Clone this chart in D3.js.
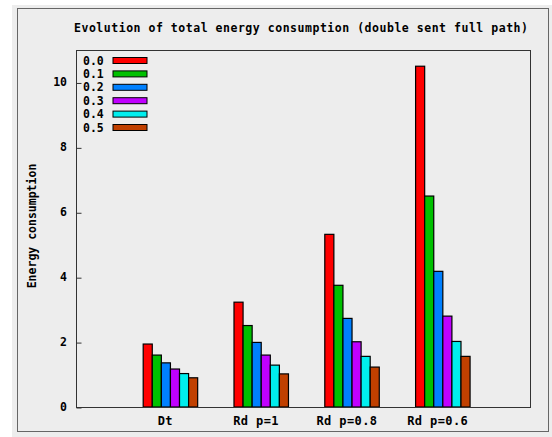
<!DOCTYPE html>
<html>
<head>
<meta charset="utf-8">
<script src="https://cdn.jsdelivr.net/npm/d3@7"></script>
<style>
  body { margin: 0; background: #fff; }
  text { font-family: "DejaVu Sans Mono", monospace; font-weight: bold; fill: #000; }
</style>
</head>
<body>
<svg id="chart" width="552" height="437"></svg>
<script>
// data
const categories = ["Dt", "Rd p=1", "Rd p=0.8", "Rd p=0.6"]
const seriesNames = ["0.0", "0.1", "0.2", "0.3", "0.4", "0.5"]
const seriesColors = ["#ff0000", "#00c000", "#0080ff", "#c000ff", "#00eeee", "#c04000"]
const values00 = [1.94, 3.23, 5.32, 10.50]
const values01 = [1.60, 2.51, 3.75, 6.50]
const values02 = [1.36, 1.99, 2.73, 4.18]
const values03 = [1.17, 1.60, 2.01, 2.80]
const values04 = [1.03, 1.29, 1.56, 2.02]
const values05 = [0.90, 1.02, 1.23, 1.56]
const yTicks = [0, 2, 4, 6, 8, 10]

const series = [values00, values01, values02, values03, values04, values05]

const svg = d3.select("#chart")
const margin = {left: 76, top: 50, right: 530, bottom: 407}

// window-like background and frame
svg.append("rect").attr("x", 12).attr("y", 5).attr("width", 540).attr("height", 432).attr("fill", "#ededed")
svg.append("rect").attr("x", 17.5).attr("y", 8.5).attr("width", 531).attr("height", 423)
  .attr("fill", "none").attr("stroke", "#666")

let x = d3.scaleLinear().domain([-1, 4]).range([margin.left, margin.right])
let y = d3.scaleLinear().domain([0, 11]).range([margin.bottom, margin.top])

const barWidth = 0.1
const groupOffset = -0.26

// bars
series.forEach((vals, j) => {
  svg.append("g").selectAll("rect")
    .data(vals)
    .join("rect")
      .attr("x", (d, i) => x(i + groupOffset + j * barWidth))
      .attr("y", d => y(d))
      .attr("width", x(barWidth) - x(0))
      .attr("height", d => y(0) - y(d))
      .attr("fill", seriesColors[j])
      .attr("stroke", "#000")
      .attr("stroke-width", 1.2)
})

// plot border
svg.append("rect")
  .attr("x", margin.left + 0.5).attr("y", margin.top + 0.5)
  .attr("width", margin.right - margin.left).attr("height", margin.bottom - margin.top)
  .attr("fill", "none").attr("stroke", "#333")

// y axis (ticks pointing inward)
let yAxis = d3.axisRight(y).tickValues(yTicks).tickSize(5).tickFormat("")
svg.append("g").attr("transform", `translate(${margin.left + 0.5},0.5)`).call(yAxis)
  .call(g => g.select(".domain").remove())
  .call(g => g.selectAll("line").attr("stroke", "#333"))

svg.append("g").selectAll("text")
  .data(yTicks)
  .join("text")
    .attr("x", 67)
    .attr("y", d => y(d) + 4)
    .attr("text-anchor", "end")
    .attr("font-size", 11.5)
    .text(d => d)

// x labels
svg.append("g").selectAll("text")
  .data(categories)
  .join("text")
    .attr("x", (d, i) => x(i) - 1.5)
    .attr("y", 425)
    .attr("text-anchor", "middle")
    .attr("font-size", 12)
    .attr("letter-spacing", 0.4)
    .text(d => d)

// title
svg.append("text")
  .attr("x", 74).attr("y", 32)
  .attr("font-size", 11.5)
  .attr("textLength", 454)
  .text("Evolution of total energy consumption (double sent full path)")

// y label
svg.append("text")
  .attr("transform", "translate(36,226) rotate(-90)")
  .attr("text-anchor", "middle")
  .attr("font-size", 11.5)
  .text("Energy consumption")

// legend
const legend = svg.append("g").selectAll("g")
  .data(seriesNames)
  .join("g")
    .attr("transform", (d, i) => `translate(0,${60.5 + i * 13.4})`)
legend.append("text")
  .attr("x", 83).attr("y", 4)
  .attr("font-size", 11.5)
  .text(d => d)
legend.append("rect")
  .attr("x", 113).attr("y", -3)
  .attr("width", 34).attr("height", 6)
  .attr("fill", (d, i) => seriesColors[i])
  .attr("stroke", "#000")
</script>
</body>
</html>
